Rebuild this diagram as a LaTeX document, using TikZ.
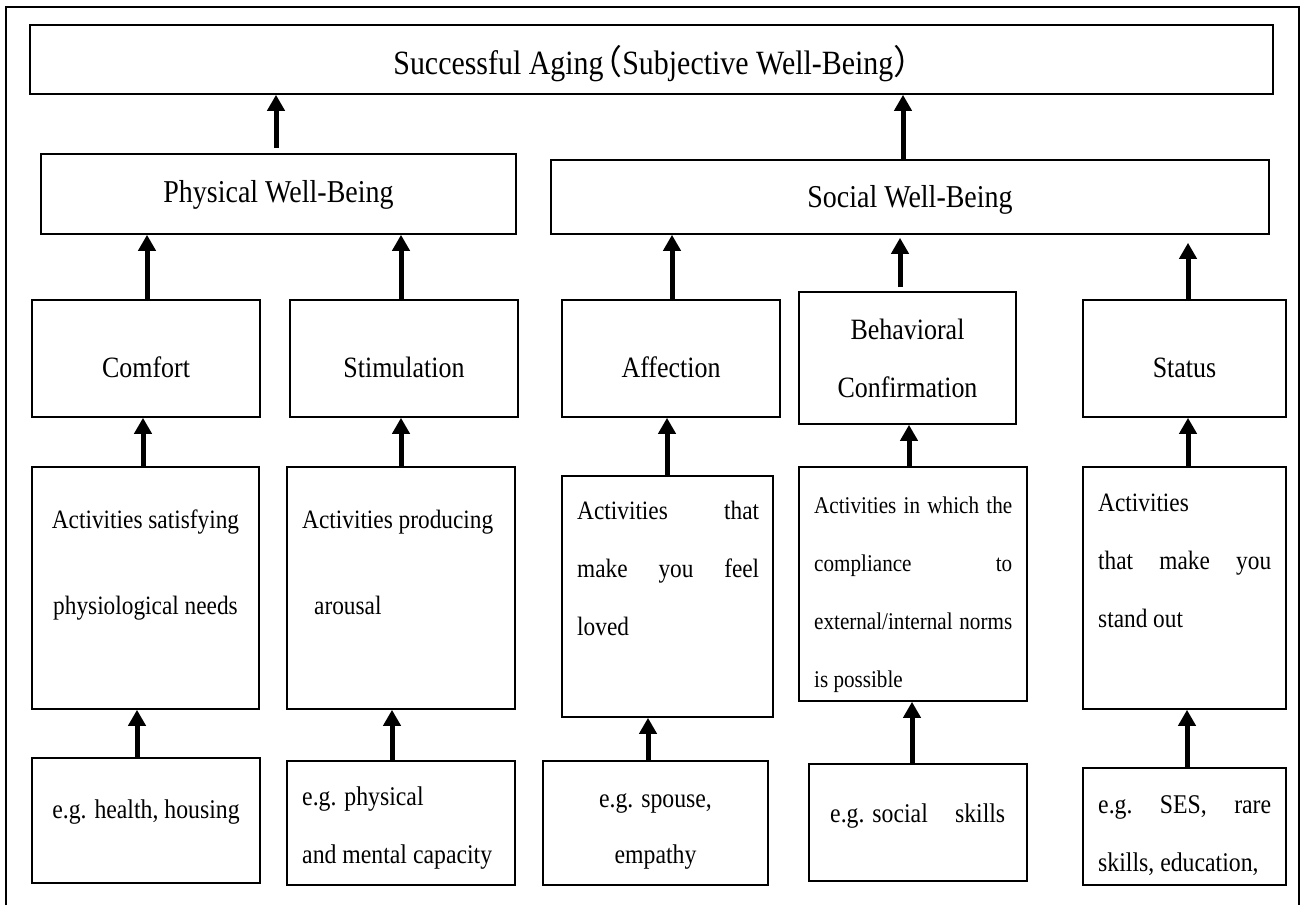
\documentclass[tikz,border=0pt]{standalone}
\usepackage{fontspec}
\setmainfont{Liberation Serif}[FakeStretch=0.88]
\newfontfamily\cjk{Noto Sans CJK SC}
\usetikzlibrary{arrows.meta,fit}

% font size helper and a line spread to a fixed width
\newcommand\fsz[1]{\fontsize{#1}{#1}\selectfont}
\newcommand\spreadline[2]{\hbox to #1pt{#2}}

\begin{document}
\begin{tikzpicture}[x=1pt,y=-1pt,
  box/.style={draw,line width=1.6pt,inner sep=0pt},
  txt/.style={inner sep=0pt,anchor=base},
  ltxt/.style={inner sep=0pt,anchor=base west},
  arr/.style={line width=5pt,-{Triangle[width=17pt,length=16pt]}},
  frame/.style={line width=1.6pt},
  title/.style={font=\fsz{34}},
  lvltwo/.style={font=\fsz{31.8}},
  lvlthree/.style={font=\fsz{29.5}},
  acttxt/.style={font=\fsz{26.5}},
  egtxt/.style={font=\fsz{27}},
  smalltxt/.style={font=\fsz{24}}
]
\useasboundingbox (0,0) rectangle (1306,905);

% outer frame (open at the bottom)
\draw[frame] (6,905) -- (6,7) -- (1299,7) -- (1299,905);

% ---- boxes ----
\node[box,fit={(30,25) (1273,94)}] (top) {};
\node[box,fit={(41,154) (516,234)}] (phys) {};
\node[box,fit={(551,160) (1269,234)}] (social) {};

\node[box,fit={(32,300) (260,417)}] (comfort) {};
\node[box,fit={(290,300) (518,417)}] (stim) {};
\node[box,fit={(562,300) (780,417)}] (affect) {};
\node[box,fit={(799,292) (1016,424)}] (behav) {};
\node[box,fit={(1083,300) (1286,417)}] (status) {};

\node[box,fit={(32,467) (259,709)}] (actA) {};
\node[box,fit={(287,467) (515,709)}] (actB) {};
\node[box,fit={(562,476) (773,717)}] (actC) {};
\node[box,fit={(799,467) (1027,701)}] (actD) {};
\node[box,fit={(1083,467) (1286,709)}] (actE) {};

\node[box,fit={(32,758) (260,883)}] (egA) {};
\node[box,fit={(287,761) (515,885)}] (egB) {};
\node[box,fit={(543,761) (768,885)}] (egC) {};
\node[box,fit={(809,764) (1027,881)}] (egD) {};
\node[box,fit={(1083,768) (1286,885)}] (egE) {};

% ---- texts ----
\node[txt,title] (t-top) at (651,74)
  {Successful Aging\kern-0.45em{\cjk （}Subjective Well-Being{\cjk ）}\kern-0.55em};
\node[txt,lvltwo] (t-phys) at (278.5,202) {Physical Well-Being};
\node[txt,lvltwo] (t-social) at (910,207) {Social Well-Being};

\node[txt,lvlthree] (t-comfort) at (146,377) {Comfort};
\node[txt,lvlthree] (t-stim) at (404,377) {Stimulation};
\node[txt,lvlthree] (t-affect) at (671,377) {Affection};
\node[txt,lvlthree] (t-behav1) at (907.5,339) {Behavioral};
\node[txt,lvlthree] (t-behav2) at (907.5,397) {Confirmation};
\node[txt,lvlthree] (t-status) at (1184.5,377) {Status};

\node[txt,acttxt] (t-actA1) at (145.5,528) {Activities satisfying};
\node[txt,acttxt] (t-actA2) at (145.5,614) {physiological needs};
\node[ltxt,acttxt] (t-actB1) at (302,528) {Activities producing};
\node[ltxt,acttxt] (t-actB2) at (314,614) {arousal};
\node[ltxt,acttxt] (t-actC1) at (577,519) {\spreadline{182}{Activities\hfill that}};
\node[ltxt,acttxt] (t-actC2) at (577,577) {\spreadline{182}{make\hfill you\hfill feel}};
\node[ltxt,acttxt] (t-actC3) at (577,635) {loved};
\node[ltxt,smalltxt] (t-actD1) at (814,513) {\spreadline{198}{Activities in which the}};
\node[ltxt,smalltxt] (t-actD2) at (814,571) {\spreadline{198}{compliance\hfill to}};
\node[ltxt,smalltxt] (t-actD3) at (814,629) {\spreadline{198}{external/internal norms}};
\node[ltxt,smalltxt] (t-actD4) at (814,687) {is possible};
\node[ltxt,acttxt] (t-actE1) at (1098,511) {Activities};
\node[ltxt,acttxt] (t-actE2) at (1098,569) {\spreadline{173}{that\hfill make\hfill you}};
\node[ltxt,acttxt] (t-actE3) at (1098,627) {stand out};

\node[txt,egtxt] (t-egA) at (146,818) {e.g. health, housing};
\node[ltxt,egtxt] (t-egB1) at (302,805) {e.g. physical};
\node[ltxt,egtxt] (t-egB2) at (302,863) {and mental capacity};
\node[txt,egtxt] (t-egC1) at (655.5,807) {e.g. spouse,};
\node[txt,egtxt] (t-egC2) at (655.5,863) {empathy};
\node[ltxt,egtxt] (t-egD) at (830,822) {\spreadline{175}{e.g. social\hfill skills}};
\node[ltxt,egtxt] (t-egE1) at (1098,813) {\spreadline{173}{e.g.\hfill SES,\hfill rare}};
\node[ltxt,egtxt] (t-egE2) at (1098,871) {skills, education,};

% ---- connectors: from the lower box up to the box above ----
\newcommand\uplink[4][]{%
  \path ([xshift=#4pt]#2.north) coordinate (lk);
  \draw[arr,#1] (lk) -- (lk |- #3.south);}

\uplink[shorten <=5pt]{phys}{top}{-2.5}
\uplink{social}{top}{-7}
\uplink{comfort}{phys}{1}
\uplink{stim}{phys}{-3}
\uplink{affect}{social}{1}
\uplink[shorten <=4pt,shorten >=3pt]{behav}{social}{-7.5}
\uplink[shorten >=8pt]{status}{social}{3.5}
\uplink{actA}{comfort}{-2.5}
\uplink{actB}{stim}{0}
\uplink{actC}{affect}{-0.5}
\uplink{actD}{behav}{-4}
\uplink{actE}{status}{3.5}
\uplink{egA}{actA}{-9}
\uplink{egB}{actB}{-9}
\uplink{egC}{actC}{-7.5}
\uplink{egD}{actD}{-6}
\uplink{egE}{actE}{2.5}
\end{tikzpicture}
\end{document}
